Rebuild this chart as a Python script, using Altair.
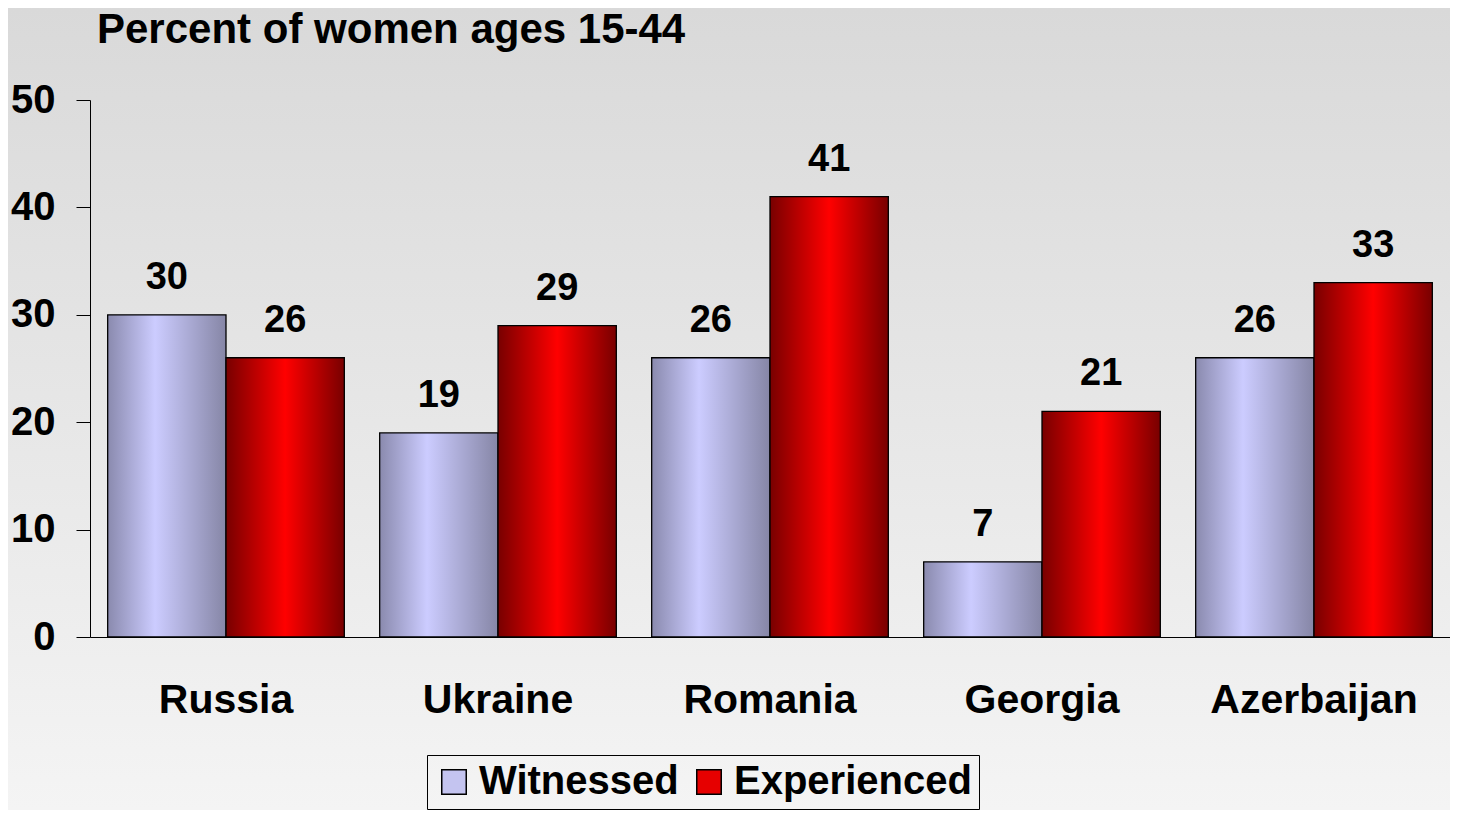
import altair as alt
import pandas as pd

countries = ["Russia", "Ukraine", "Romania", "Georgia", "Azerbaijan"]
witnessed = [30, 19, 26, 7, 26]
experienced = [26, 29, 41, 21, 33]
series = ["Witnessed", "Experienced"]
y_ticks = [0, 10, 20, 30, 40, 50]
title_text = "Percent of women ages 15-44"

rows = []
for c, w, e in zip(countries, witnessed, experienced):
    rows.append({"country": c, "series": series[0], "value": w})
    rows.append({"country": c, "series": series[1], "value": e})
df = pd.DataFrame(rows)

W, H = 1360, 537
FONT = "Liberation Sans"

grad_w = alt.LinearGradient(
    gradient="linear", x1=0, x2=1, y1=0, y2=0,
    stops=[alt.GradientStop(offset=0, color="#8a8aae"),
           alt.GradientStop(offset=0.4, color="#ccccff"),
           alt.GradientStop(offset=1, color="#8686a6")])
grad_e = alt.LinearGradient(
    gradient="linear", x1=0, x2=1, y1=0, y2=0,
    stops=[alt.GradientStop(offset=0, color="#780000"),
           alt.GradientStop(offset=0.5, color="#ff0000"),
           alt.GradientStop(offset=1, color="#780000")])
grad_bg = alt.LinearGradient(
    gradient="linear", x1=0, x2=0, y1=0, y2=1,
    stops=[alt.GradientStop(offset=0, color="#d9d9d9"),
           alt.GradientStop(offset=1, color="#f4f4f4")])

x_enc = alt.X("country:N", sort=countries,
              scale=alt.Scale(paddingInner=0.13, paddingOuter=0.065),
              axis=alt.Axis(title=None, labelFont=FONT, labelFontSize=41,
                            labelFontWeight="bold", labelColor="black",
                            labelPadding=43, ticks=False, tickSize=0,
                            domainColor="black", domainWidth=1,
                            labelAngle=0, labelLimit=0, zindex=1))
xo_enc = alt.XOffset("series:N", sort=series,
                     scale=alt.Scale(domain=series, paddingInner=0, paddingOuter=0))
y_enc = alt.Y("value:Q", scale=alt.Scale(domain=[0, 50], nice=False),
              axis=alt.Axis(title=None, values=y_ticks, labelFont=FONT,
                            labelFontSize=40, labelFontWeight="bold",
                            labelColor="black", labelPadding=21, tickSize=14,
                            tickColor="black", domainColor="black",
                            grid=False, zindex=1))

base = alt.Chart(df)

bg = alt.Chart(pd.DataFrame({"d": [0]})).mark_rect(fill=grad_bg).encode(
    x=alt.value(-82), x2=alt.value(W), y=alt.value(-92), y2=alt.value(709))

bars_w = base.transform_filter(alt.datum.series == series[0]).mark_bar(
    fill=grad_w, stroke="black", strokeWidth=1.3).encode(
    x=x_enc, xOffset=xo_enc, y=y_enc)
bars_e = base.transform_filter(alt.datum.series == series[1]).mark_bar(
    fill=grad_e, stroke="black", strokeWidth=1.3).encode(
    x=x_enc, xOffset=xo_enc, y=y_enc)

labels = base.mark_text(font=FONT, fontSize=38, fontWeight="bold",
                        baseline="alphabetic", dy=-26, color="black").encode(
    x=x_enc, xOffset=xo_enc, y=y_enc, text="value:Q")

legend_layer = base.transform_filter("false").mark_bar().encode(
    x=x_enc, xOffset=xo_enc, y=y_enc,
    color=alt.Color("series:N", sort=series,
                    scale=alt.Scale(domain=series, range=["#c4c4f0", "#e60000"]),
                    legend=alt.Legend(title=None, orient="none", legendX=337,
                                      legendY=655, direction="horizontal",
                                      symbolType="square", symbolSize=600,
                                      symbolStrokeColor="black",
                                      symbolStrokeWidth=1.5, symbolOpacity=1,
                                      labelFont=FONT, labelFontSize=40,
                                      labelFontWeight="bold", labelColor="black",
                                      labelOffset=5, columnPadding=10,
                                      padding=7, strokeColor="black",
                                      labelLimit=0, zindex=1)))

chart = alt.layer(bg, bars_w, bars_e, labels, legend_layer).properties(
    width=W, height=H,
    title=alt.TitleParams(text=title_text, anchor="start", frame="group",
                          font=FONT, fontSize=42, fontWeight="bold",
                          color="black", offset=-77, baseline="alphabetic",
                          dx=7, zindex=1),
).configure(padding=0, background="#f4f4f4").configure_view(stroke=None)

chart.save("out.html", embed_options={"renderer": "svg", "actions": False})
